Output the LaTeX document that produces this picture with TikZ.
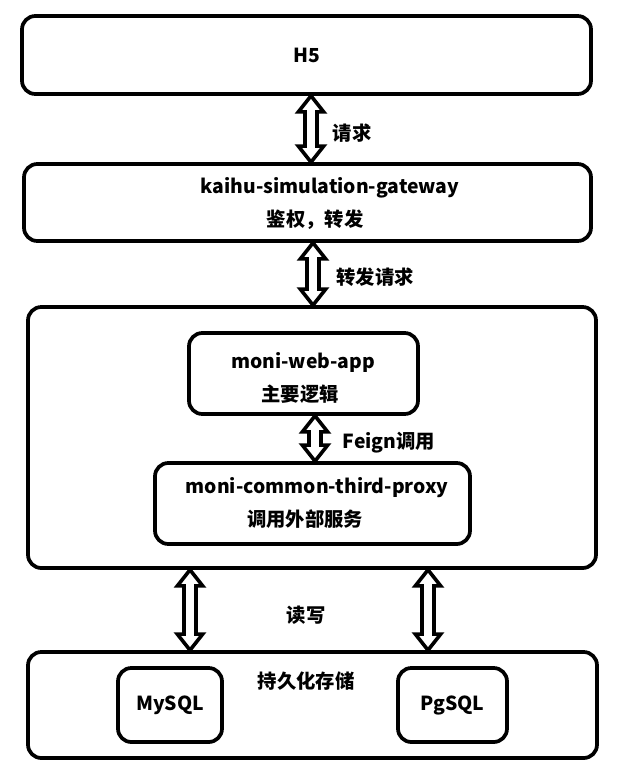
\documentclass[tikz,border=0pt]{standalone}
\usepackage{fontspec}
\setmainfont{Noto Sans CJK SC}
\usetikzlibrary{calc}
\begin{document}
\begin{tikzpicture}[x=0.75pt,y=-0.75pt,
  box/.style 2 args={draw,line width=2.8pt,rounded corners=10pt,
    minimum width=#1*0.75pt,minimum height=#2*0.75pt,inner sep=0pt,
    font=\bfseries\fontsize{14.5}{17}\selectfont},
  txt/.style={inner sep=0pt,font=\bfseries\fontsize{14.5}{17}\selectfont},
  dblarrow/.style={draw,line width=2.7pt,line join=miter,fill=white,
    to path={let \p1=(\tikztostart),\p2=(\tikztotarget) in
      (\x1,\y1) -- (\x1+9.5pt,\y1-12pt) -- (\x1+4.5pt,\y1-12pt)
      -- (\x1+4.5pt,\y2+12pt) -- (\x1+9.5pt,\y2+12pt) -- (\x1,\y2)
      -- (\x1-9.5pt,\y2+12pt) -- (\x1-4.5pt,\y2+12pt)
      -- (\x1-4.5pt,\y1-12pt) -- (\x1-9.5pt,\y1-12pt) -- cycle}}]
  \useasboundingbox (0,0) rectangle (621,775);
  % boxes
  \node[box={569}{78}] (h5) at (306.5,55) {H5};
  \node[box={567}{77}] (gw) at (307.5,202.5) {};
  \node[txt] (gwname) at (330,188) {kaihu-simulation-gateway};
  \node[txt] (gwdesc) at (315,220) {鉴权，转发};
  \node[box={568}{261}] (core) at (312,437.5) {};
  \node[box={229}{81}] (app) at (303.5,373.5) {};
  \node[txt] (appname) at (303,362) {moni-web-app};
  \node[txt] (appdesc) at (300,394) {主要逻辑};
  \node[box={315}{81}] (proxy) at (312.5,503.5) {};
  \node[txt] (proxyname) at (317,488) {moni-common-third-proxy};
  \node[txt] (proxydesc) at (305,519) {调用外部服务};
  \node[box={569}{106}] (store) at (312.5,705) {};
  \node[txt] (storename) at (306,681) {持久化存储};
  \node[box={104}{74}] (mysql) at (170,705) {MySQL};
  \node[box={109}{74}] (pgsql) at (452.5,705) {PgSQL};
  % arrows
  \coordinate (ax1) at (311,0);
  \coordinate (ax2) at (313,0);
  \coordinate (ax3) at (315,0);
  \coordinate (ax4) at (190,0);
  \coordinate (ax5) at (428,0);
  \draw[dblarrow] (h5.south -| ax1) to (gw.north -| ax1);
  \draw[dblarrow] (gw.south -| ax2) to (core.north -| ax2);
  \draw[dblarrow] (app.south -| ax3) to (proxy.north -| ax3);
  \draw[dblarrow] (core.south -| ax4) to (store.north -| ax4);
  \draw[dblarrow] (core.south -| ax5) to (store.north -| ax5);
  \node[txt] (req) at (352,133) {请求};
  \node[txt] (fwdreq) at (375,277) {转发请求};
  \node[txt] (feign) at (389,443) {Feign调用};
  \node[txt] (rw) at (306,615) {读写};
\end{tikzpicture}
\end{document}
